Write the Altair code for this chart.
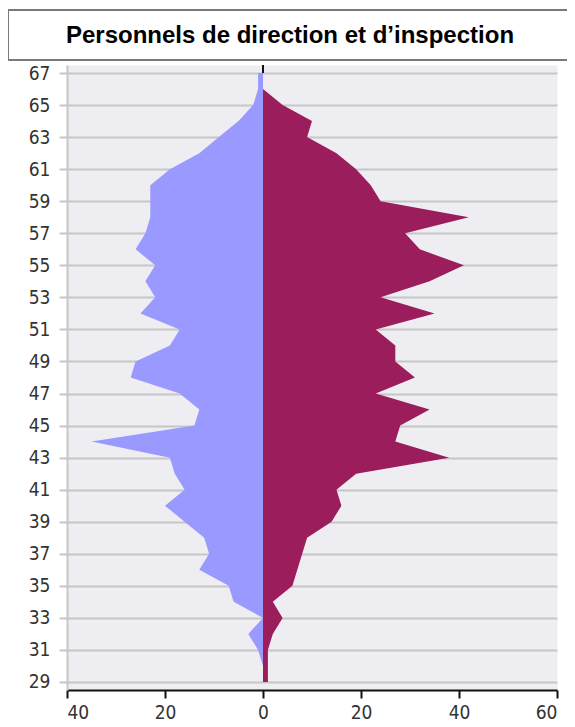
import altair as alt
import pandas as pd

TITLE = "Personnels de direction et d’inspection"

AGES = list(range(29, 68))
# left (light purple) series, ages 29..67
LEFT = [0, 0, 1, 3, 0, 6, 7, 13, 11, 12, 16, 20, 16, 18, 19, 35, 14, 13, 17, 27,
        26, 19, 17, 25, 22, 24, 22, 26, 24, 23, 23, 23, 19, 13, 9, 5, 2, 1, 1]
# right (dark magenta) series, ages 29..67
RIGHT = [1, 1, 1, 2, 4, 2, 6, 7, 8, 9, 14, 16, 15, 19, 38, 27, 28, 34, 23, 31,
         27, 27, 23, 35, 24, 34, 41, 32, 29, 42, 24, 22, 19, 15, 9, 10, 4, 0, 0]

X_TICKS = [-40, -20, 0, 20, 40, 60]
Y_TICKS = list(range(29, 68, 2))

df = pd.DataFrame({"age": AGES, "left": [-v for v in LEFT], "right": RIGHT})

x_scale = alt.Scale(domain=[-40, 60], nice=False, zero=False)
y_scale = alt.Scale(domain=[28.5, 67.5], nice=False, zero=False)

FONT = "DejaVu Sans Condensed"
AX = alt.Axis(values=X_TICKS, labelExpr="abs(datum.value)", title=None, grid=False,
              domainColor="#111111", domainWidth=2, tickColor="#111111", tickWidth=2,
              tickSize=8, labelFont=FONT, labelFontSize=19, labelColor="#333333",
              labelPadding=5)
AY = alt.Axis(values=Y_TICKS, title=None, grid=True, gridColor="#c6c6c6", gridWidth=2,
              domainColor="#c6c6c6", domainWidth=2, tickColor="#c6c6c6", tickWidth=2,
              tickSize=8, labelFont=FONT, labelFontSize=19, labelColor="#333333",
              labelPadding=9)

rule = alt.Chart(pd.DataFrame({"x": [0], "y": [67], "y2": [67.5]})).mark_rule(
    color="#111111", strokeWidth=2
).encode(
    x=alt.X("x:Q", scale=x_scale, axis=AX),
    y=alt.Y("y:Q", scale=y_scale, axis=AY),
    y2="y2:Q",
)

left_area = alt.Chart(df).mark_area(orient="horizontal", color="#9999FF", opacity=1).encode(
    x=alt.X("left:Q", scale=x_scale, axis=AX),
    y=alt.Y("age:Q", scale=y_scale, axis=AY),
)

right_area = alt.Chart(df).mark_area(orient="horizontal", color="#9B1D5B", opacity=1).encode(
    x=alt.X("right:Q", scale=x_scale, axis=AX),
    y=alt.Y("age:Q", scale=y_scale, axis=AY),
)

tdf = pd.DataFrame({"title": [TITLE]})
box = alt.Chart(tdf).mark_rect(fill="white", stroke="#7a7a7a", strokeWidth=2).encode(
    x=alt.value(-59), x2=alt.value(505), y=alt.value(-55), y2=alt.value(-5)
)
title_text = alt.Chart(tdf).mark_text(
    font="Liberation Sans", fontSize=24, fontWeight="bold", color="#000000",
    align="center", baseline="middle"
).encode(text="title:N", x=alt.value(223), y=alt.value(-29))

chart = alt.layer(rule, left_area, right_area, box, title_text).properties(
    width=490, height=625,
    autosize=alt.AutoSizeParams(type="none"),
    padding={"left": 59, "top": 57, "right": 10, "bottom": 40},
    background="white",
).configure_view(fill="#EEEEF2", stroke="transparent")

chart.save("out.html", embed_options={"renderer": "svg", "actions": False})
